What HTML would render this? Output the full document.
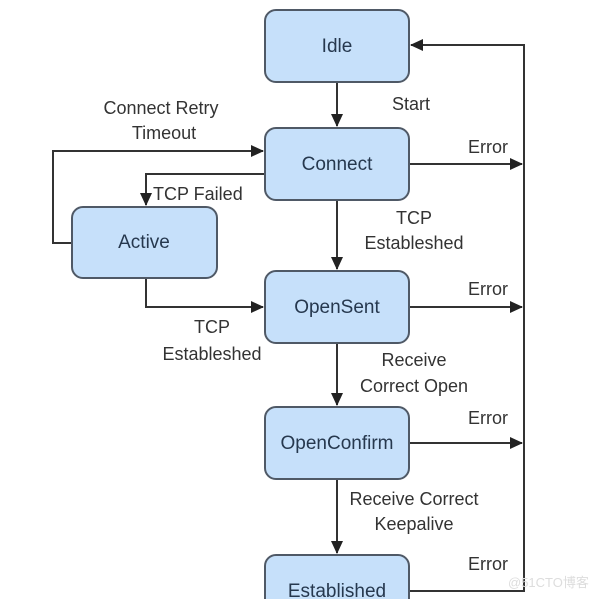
<!DOCTYPE html>
<html><head><style>
html,body{margin:0;padding:0;background:#fff;}
svg{display:block;}
text{font-family:"Liberation Sans",sans-serif;font-size:18px;fill:#333;}
.b{fill:#c6e0fa;stroke:#4f5966;stroke-width:2;}
.n{fill:#26384e;text-anchor:middle;font-size:19px;}
.l{stroke:#333;stroke-width:2;fill:none;}
.c{text-anchor:middle;}
</style></head><body>
<svg width="602" height="599" viewBox="0 0 602 599">
<defs><marker id="a" markerWidth="13" markerHeight="12" refX="12" refY="6" orient="auto" markerUnits="userSpaceOnUse"><path d="M0,0 L13,6 L0,12 z" fill="#222"/></marker></defs>
<path class="l" d="M337 82 V126" marker-end="url(#a)"/>
<path class="l" d="M337 200 V269" marker-end="url(#a)"/>
<path class="l" d="M337 343 V405" marker-end="url(#a)"/>
<path class="l" d="M337 479 V553" marker-end="url(#a)"/>
<path class="l" d="M72 243 H53 V151 H263" marker-end="url(#a)"/>
<path class="l" d="M265 174 H146 V205" marker-end="url(#a)"/>
<path class="l" d="M146 278 V307 H263" marker-end="url(#a)"/>
<path class="l" d="M409 164 H522" marker-end="url(#a)"/>
<path class="l" d="M409 307 H522" marker-end="url(#a)"/>
<path class="l" d="M409 443 H522" marker-end="url(#a)"/>
<path class="l" d="M409 591 H524 V45 H411" marker-end="url(#a)"/>
<rect class="b" x="265" y="10" width="144" height="72" rx="11"/>
<rect class="b" x="265" y="128" width="144" height="72" rx="11"/>
<rect class="b" x="72" y="207" width="145" height="71" rx="11"/>
<rect class="b" x="265" y="271" width="144" height="72" rx="11"/>
<rect class="b" x="265" y="407" width="144" height="72" rx="11"/>
<rect class="b" x="265" y="555" width="144" height="72" rx="11"/>
<text class="n" x="337" y="52">Idle</text>
<text class="n" x="337" y="170">Connect</text>
<text class="n" x="144" y="248">Active</text>
<text class="n" x="337" y="313">OpenSent</text>
<text class="n" x="337" y="449">OpenConfirm</text>
<text class="n" x="337" y="597">Established</text>
<text x="392" y="110">Start</text>
<text class="c" x="161" y="114">Connect Retry</text>
<text class="c" x="164" y="139">Timeout</text>
<text x="153" y="200">TCP Failed</text>
<text class="c" x="414" y="224">TCP</text>
<text class="c" x="414" y="249">Estableshed</text>
<text class="c" x="212" y="333">TCP</text>
<text class="c" x="212" y="360">Estableshed</text>
<text class="c" x="414" y="366">Receive</text>
<text class="c" x="414" y="392">Correct Open</text>
<text class="c" x="414" y="505">Receive Correct</text>
<text class="c" x="414" y="530">Keepalive</text>
<text x="468" y="153">Error</text>
<text x="468" y="295">Error</text>
<text x="468" y="424">Error</text>
<text x="468" y="570">Error</text>
<text x="508" y="587" style="font-size:13px;fill:#ddd">@51CTO博客</text>
</svg>
</body></html>
